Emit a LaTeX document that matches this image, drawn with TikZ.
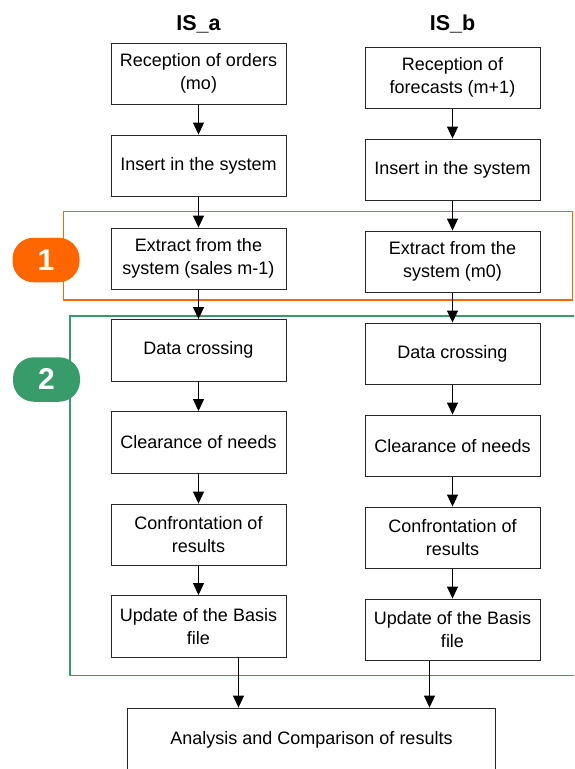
\documentclass[tikz,border=0pt]{standalone}
\usepackage{fontspec}
\setmainfont{Liberation Sans}
\usetikzlibrary{arrows.meta}
\definecolor{frameorange}{RGB}{255,102,0}
\definecolor{framegreen}{RGB}{56,155,106}
\definecolor{boxline}{RGB}{40,40,40}
\tikzset{
  stepbox/.style={draw=boxline, line width=0.9pt, fill=white, minimum width=175pt, minimum height=61.5pt,
    inner sep=0pt, align=center, font=\fontsize{18}{23}\selectfont},
  flow/.style={line width=0.9pt, -{Triangle[width=11pt,length=12pt]}},
  badge/.style={rounded corners=21pt, minimum width=67pt, minimum height=44.5pt, inner sep=0pt,
    text=white, font=\fontsize{30}{30}\selectfont\bfseries},
  coltitle/.style={anchor=base, inner sep=0pt, font=\fontsize{21.5}{24}\selectfont\bfseries}
}
\begin{document}
\begin{tikzpicture}[x=1pt,y=-1pt]
\useasboundingbox (0,0) rectangle (574,769);
\clip (0,0) rectangle (574,769);
% frames
\draw[frameorange, line width=1.5pt] (63.5,211.5) rectangle (572.5,300);
\draw[framegreen, line width=1.5pt] (70,316) rectangle (585,675.5);
% titles
\node[coltitle] (ta) at (198.5,30) {IS\_a};
\node[coltitle] (tb) at (452.5,30) {IS\_b};
% left column
\node[stepbox] (a1) at (198.5,73.75) {Reception of orders\\(mo)};
\node[stepbox] (a2) at (198.5,165.75) {Insert in the system};
\node[stepbox] (a3) at (198.5,258.75) {Extract from the\\system (sales m-1)};
\node[stepbox] (a4) at (198.5,350.25) {Data crossing};
\node[stepbox] (a5) at (198.5,442.25) {Clearance of needs};
\node[stepbox] (a6) at (198.5,534.75) {Confrontation of\\results};
\node[stepbox] (a7) at (198.5,626.25) {Update of the Basis\\file};
% right column
\node[stepbox] (b1) at (452.5,77.75) {Reception of\\forecasts (m+1)};
\node[stepbox] (b2) at (452.5,169.75) {Insert in the system};
\node[stepbox] (b3) at (452.5,261.75) {Extract from the\\system (m0)};
\node[stepbox] (b4) at (452.5,353.75) {Data crossing};
\node[stepbox] (b5) at (452.5,445.75) {Clearance of needs};
\node[stepbox] (b6) at (452.5,537.75) {Confrontation of\\results};
\node[stepbox] (b7) at (452.5,629.75) {Update of the Basis\\file};
% bottom
\node[stepbox, minimum width=368pt, minimum height=63pt] (c) at (311.5,739.5) {Analysis and Comparison of results};
% arrows
\foreach \u/\v in {a1/a2,a2/a3,a3/a4,a4/a5,a5/a6,a6/a7,b1/b2,b2/b3,b3/b4,b4/b5,b5/b6,b6/b7}
  \draw[flow] (\u.south) -- (\v.north);
\coordinate (la) at (238.5,657);
\coordinate (ra) at (429.5,660.5);
\draw[flow] (la) -- (la |- c.north);
\draw[flow] (ra) -- (ra |- c.north);
% badges
\node[badge, fill=frameorange] (n1) at (46,260) {1};
\node[badge, fill=framegreen] (n2) at (46.5,379.5) {2};
\end{tikzpicture}
\end{document}
